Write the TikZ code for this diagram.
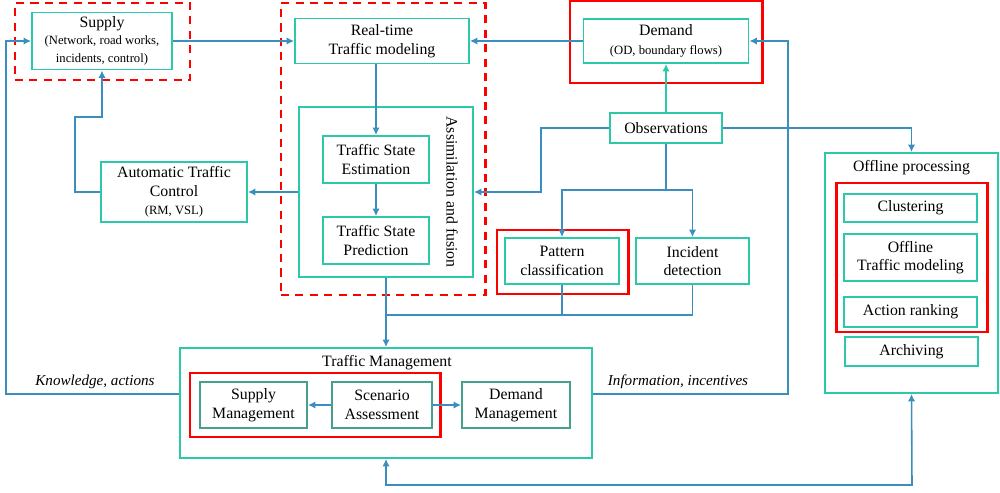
\documentclass[tikz,border=0pt]{standalone}
\usepackage{fontspec}
\setmainfont{Liberation Serif}
\usepackage{tikz}
\usetikzlibrary{positioning,arrows.meta,calc}
\definecolor{tealline}{HTML}{2CC9A8}
\definecolor{innerteal}{HTML}{45A08E}
\definecolor{flowblue}{HTML}{3A8FBF}
\newcommand{\smalltxt}{\fontsize{7.2}{8.6}\selectfont}
\tikzset{
  flowarrow/.style={-{Latex[length=1.5mm,width=1.5mm]}, line width=0.9pt, flowblue},
  botharrow/.style={{Latex[length=1.5mm,width=1.5mm]}-{Latex[length=1.5mm,width=1.5mm]}, line width=0.9pt, flowblue},
  flowline/.style={line width=0.9pt, flowblue},
  tealarrow/.style={-{Latex[length=1.5mm,width=1.5mm]}, line width=0.9pt, tealline},
  tealbox/.style={draw=tealline, line width=1.1pt, fill=white, align=center, inner sep=1pt},
  innerbox/.style={draw=innerteal, line width=1.1pt, fill=white, align=center, inner sep=1pt},
  groupbox/.style={draw=tealline, line width=1.1pt, inner sep=0pt},
  redzone/.style={draw=red, line width=1.7pt, inner sep=0pt},
  dashzone/.style={draw=red, line width=1.7pt, dash pattern=on 4.6pt off 3.6pt, inner sep=0pt},
  flowlabel/.style={font=\fontsize{8.6}{10}\selectfont\itshape, inner sep=1pt}
}
\begin{document}
\begin{tikzpicture}[x=0.2mm, y=-0.2mm, every node/.style={font=\fontsize{9}{10.5}\selectfont}]
  \useasboundingbox (0,0) rectangle (1000,493);
  % grouping frames
  \node[dashzone, minimum width=3.5cm, minimum height=1.54cm] (supplyzone) at (102.5,41.5) {};
  \node[dashzone, minimum width=4.08cm, minimum height=5.84cm] (rtzone) at (383,149) {};
  \node[redzone, minimum width=3.84cm, minimum height=1.64cm] (demzone) at (666,42) {};
  \node[redzone, minimum width=2.62cm, minimum height=1.28cm] (patzone) at (562.5,262) {};
  \node[groupbox, minimum width=3.48cm, minimum height=3.4cm] (assim) at (386,192) {};
  \node[groupbox, minimum width=8.24cm, minimum height=2.2cm] (tm) at (386,403) {};
  \node[redzone, minimum width=5.0cm, minimum height=1.28cm] (tmzone) at (315,405) {};
  \node[groupbox, minimum width=3.46cm, minimum height=4.8cm] (offline) at (911.5,273) {};
  \node[redzone, minimum width=3.02cm, minimum height=2.98cm] (offzone) at (911.5,257.5) {};
  % boxes
  \node[tealbox, minimum width=2.8cm, minimum height=1.14cm] (supply) at (102,41) {Supply\\[-1pt]{\smalltxt (Network, road works,}\\{\smalltxt incidents, control)}};
  \node[tealbox, minimum width=3.48cm, minimum height=0.9cm] (rtm) at (382,41) {Real-time\\Traffic modeling};
  \node[tealbox, minimum width=2.12cm, minimum height=0.94cm] (tse) at (376,159.5) {Traffic State\\Estimation};
  \node[tealbox, minimum width=2.12cm, minimum height=0.94cm] (tsp) at (376,240.5) {Traffic State\\Prediction};
  \node[rotate=-90] (assimtitle) at (452,192) {Assimilation and fusion};
  \node[tealbox, minimum width=2.92cm, minimum height=1.2cm] (atc) at (174,192) {Automatic Traffic\\Control\\{\smalltxt (RM, VSL)}};
  \node[tealbox, minimum width=3.3cm, minimum height=0.88cm] (demand) at (666,41) {Demand\\{\smalltxt (OD, boundary flows)}};
  \node[tealbox, minimum width=2.24cm, minimum height=0.6cm] (obs) at (666,128) {Observations};
  \node[tealbox, minimum width=2.28cm, minimum height=0.92cm] (pattern) at (562,261) {Pattern\\classification};
  \node[tealbox, minimum width=2.26cm, minimum height=0.92cm] (incident) at (692.5,261) {Incident\\detection};
  \node (tmtitle) at (387,363) {Traffic Management};
  \node[innerbox, minimum width=2.14cm, minimum height=0.92cm] (supmgmt) at (253.5,405) {Supply\\Management};
  \node[innerbox, minimum width=2.0cm, minimum height=0.92cm] (scen) at (382,405) {Scenario\\Assessment};
  \node[innerbox, minimum width=2.16cm, minimum height=0.92cm] (demmgmt) at (516,405) {Demand\\Management};
  \node (offtitle) at (911.5,168) {Offline processing};
  \node[tealbox, minimum width=2.66cm, minimum height=0.56cm] (clust) at (910.5,208) {Clustering};
  \node[tealbox, minimum width=2.66cm, minimum height=0.94cm] (offtm) at (910.5,257.5) {Offline\\Traffic modeling};
  \node[tealbox, minimum width=2.66cm, minimum height=0.6cm] (rank) at (910.5,312) {Action ranking};
  \node[tealbox, minimum width=2.66cm, minimum height=0.58cm] (arch) at (911.5,351.5) {Archiving};
  \node[flowlabel] (knowlabel) at (95,382) {Knowledge, actions};
  \node[flowlabel] (infolabel) at (678,382) {Information, incentives};
  % bend points
  \coordinate (atcbend) at (75,117);
  \coordinate (obsleft) at (541,192);
  \coordinate (obssplit) at (666,190);
  \coordinate (merge) at (386,315);
  \coordinate (kncorner) at (6,394);
  \coordinate (infocorner) at (788,394);
  \coordinate (botcorner) at (912,485);
  % connectors
  \draw[flowarrow] (supply) -- (rtm);
  \draw[flowarrow] (demand) -- (rtm);
  \draw[flowarrow] (rtm.south -| tse) -- (tse);
  \draw[flowarrow] (tse) -- (tsp);
  \draw[flowarrow] (assim.west) -- (atc.east);
  \draw[flowarrow] (atc.west) -| (atcbend) -| (supply.south);
  \draw[tealarrow] (obs) -- (demand);
  \draw[flowarrow] (obs.west) -| (obsleft) -- (assim.east);
  \draw[flowarrow] (obs.east) -| (offline.north);
  \draw[flowline] (obs.south) -- (obssplit);
  \draw[flowarrow] (obssplit) -| (pattern.north);
  \draw[flowarrow] (obssplit) -| (incident.north);
  \draw[flowline] (pattern.south) |- (merge);
  \draw[flowline] (incident.south) |- (merge);
  \draw[flowarrow] (assim.south) -- (tm.north);
  \draw[flowarrow, line width=1.3pt] (scen) -- (supmgmt);
  \draw[flowarrow, line width=1.3pt] (scen) -- (demmgmt);
  \draw[flowarrow] (tm.west |- kncorner) -- (kncorner) |- (supply.west);
  \draw[flowarrow] (tm.east |- infocorner) -- (infocorner) |- (demand.east);
  \draw[botharrow] (tm.south) |- (botcorner) -- (offline.south);
\end{tikzpicture}
\end{document}
